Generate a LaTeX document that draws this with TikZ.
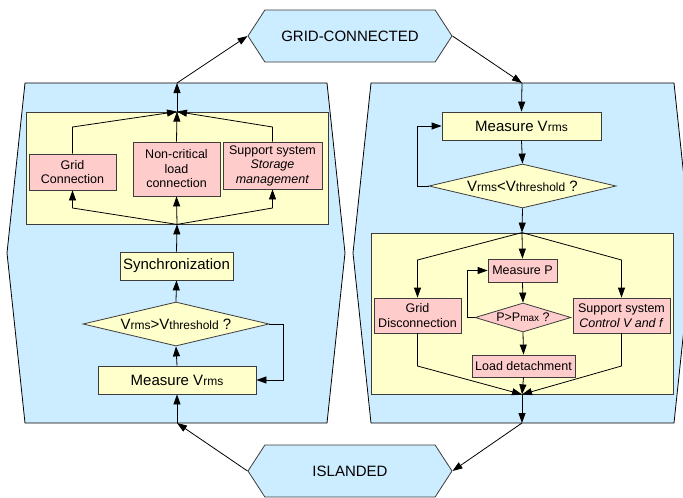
\documentclass[tikz,border=0pt]{standalone}
\usepackage{fontspec}
\setmainfont{Liberation Sans}
\usetikzlibrary{shapes.geometric, shapes.symbols, arrows.meta}
\definecolor{panelblue}{RGB}{204,236,255}
\definecolor{boxyellow}{RGB}{255,255,204}
\definecolor{boxpink}{RGB}{255,204,204}
\definecolor{edgegray}{RGB}{60,60,60}
\newcommand{\idx}[3]{%
    % #1: symbol
    % #2: index text
    % #3: index size
    #1{\fontsize{#3}{#3}\selectfont #2}%
}
\newcommand{\panel}[2]{
    % #1: x of left top corner
    % #2: x of right top corner
    \filldraw[fill=panelblue, draw=black, line width=0.8pt] (#1,83) -- (#2,83) -- ({#2+18},253)
        -- (#2,423) -- (#1,423) -- ({#1-18},253) -- cycle;
}

\begin{document}
\begin{tikzpicture}[x=1pt, y=-1pt, line width=0.8pt]
    % flow steps (yellow)
    \tikzstyle{flow}=[draw=edgegray, fill=boxyellow, inner sep=0, font=\fontsize{15}{18}\selectfont]
    % actions (pink)
    \tikzstyle{act}=[draw=edgegray, fill=boxpink, inner sep=0, align=center, font=\fontsize{12.5}{14.5}\selectfont]
    % decisions
    \tikzstyle{test}=[diamond, aspect=4.2, inner sep=0, draw=edgegray, fill=boxyellow, font=\fontsize{15}{18}\selectfont]
    % operating modes
    \tikzstyle{mode}=[signal, signal to=west and east, signal pointer angle=114, draw=edgegray, fill=panelblue, minimum width=204, minimum height=52, inner sep=0, font=\fontsize{15}{18}\selectfont]
    \tikzstyle{link}=[-{Triangle[length=10pt, width=7pt]}]
    \useasboundingbox (0,0) rectangle (683,498);

    % Operating modes
    \node[mode] (gridmode) at (350,36) {GRID-CONNECTED};
    \node[mode] (islmode) at (350,471) {ISLANDED};

    % Panel for the way back to the grid
    \panel{25}{327}
    \coordinate (ltop) at (177,83);
    \coordinate (lbot) at (177,423);
    \coordinate (ljoin) at (0,127);
    \coordinate (lsplit) at (0,208);
    \coordinate (lloop) at (283,0);
    \node[flow, minimum width=302, minimum height=112] (lbox) at (177,168) {};
    \node[act, minimum width=87, minimum height=36] (gridcon) at (72.5,172) {Grid\\Connection};
    \node[act, minimum width=87, minimum height=54] (loadcon) at (176.5,169) {Non-critical\\load\\connection};
    \node[act, minimum width=99, minimum height=47] (storage) at (272.5,165.5) {Support system\\\textit{Storage}\\\textit{management}};
    \node[flow, minimum width=113, minimum height=28] (sync) at (176.5,266) {Synchronization};
    \node[test, minimum width=186, minimum height=44] (ldec) at (176,324) {\idx{V}{rms}{12}>\idx{V}{threshold}{12} ?};
    \node[flow, minimum width=158, minimum height=28] (lmeas) at (177,380) {Measure \idx{V}{rms}{12}};
    \draw[link] (islmode.west) -- (lbot);
    \draw[link] (lbot) -- (lmeas.south);
    \draw[link] (lmeas.north) -- (ldec.south);
    \draw[link] (ldec.east) -- (ldec.east -| lloop) |- (lmeas.east);
    \draw[link] (ldec.north) -- (sync.south);
    \draw[link] (sync.north) -- (lbox.south);
    \draw[link] (lbox.south) -- (gridcon.south |- lsplit) -- (gridcon.south);
    \draw[link] (lbox.south) -- (loadcon.south);
    \draw[link] (lbox.south) -- (storage.south |- lsplit) -- (storage.south);
    \draw[link] (gridcon.north) -- (gridcon.north |- ljoin) -- (lbox.north);
    \draw[link] (loadcon.north) -- (lbox.north);
    \draw[link] (storage.north) -- (storage.north |- ljoin) -- (lbox.north);
    \draw[link] (lbox.north) -- (ltop);
    \draw[link] (ltop) -- (gridmode.west);

    % Panel for the way to islanding
    \panel{371}{674}
    \coordinate (rtop) at (522,83);
    \coordinate (rbot) at (522,423);
    \coordinate (rsplit) at (0,260);
    \coordinate (rjoin) at (0,366);
    \coordinate (rloop) at (417,0);
    \coordinate (ploop) at (467,0);
    \node[flow, minimum width=159, minimum height=28] (rmeas) at (521.5,126) {Measure \idx{V}{rms}{12}};
    \node[test, minimum width=187, minimum height=44] (rdec) at (522.5,186) {\idx{V}{rms}{12}<\idx{V}{threshold}{12} ?};
    \node[flow, minimum width=302, minimum height=161] (rbox) at (522,313.5) {};
    \node[act, minimum width=87, minimum height=35] (griddis) at (417.5,315.5) {Grid\\Disconnection};
    \node[act, minimum width=69, minimum height=23] (measp) at (522.5,270.5) {Measure P};
    \node[test, fill=boxpink, aspect=3.3, minimum width=96, minimum height=29, font=\fontsize{12.5}{14.5}\selectfont] (pdec) at (523,317.5) {P>\idx{P}{max}{10} ?};
    \node[act, minimum width=103, minimum height=22] (loaddet) at (523.5,366) {Load detachment};
    \node[act, minimum width=97, minimum height=35] (ctrlvf) at (621.5,315.5) {Support system\\\textit{Control V and f}};
    \draw[link] (gridmode.east) -- (rtop);
    \draw[link] (rtop) -- (rmeas.north);
    \draw[link] (rmeas.south) -- (rdec.north);
    \draw[link] (rdec.west) -- (rdec.west -| rloop) |- (rmeas.west);
    \draw[link] (rdec.south) -- (rbox.north);
    \draw[link] (rbox.north) -- (griddis.north |- rsplit) -- (griddis.north);
    \draw[link] (rbox.north) -- (measp.north);
    \draw[link] (rbox.north) -- (ctrlvf.north |- rsplit) -- (ctrlvf.north);
    \draw[link] (measp.south) -- (pdec.north);
    \draw[link] (pdec.west) -- (pdec.west -| ploop) |- (measp.west);
    \draw[link] (pdec.south) -- (loaddet.north);
    \draw[link] (griddis.south) -- (griddis.south |- rjoin) -- (rbox.south);
    \draw[link] (loaddet.south) -- (rbox.south);
    \draw[link] (ctrlvf.south) -- (ctrlvf.south |- rjoin) -- (rbox.south);
    \draw[link] (rbox.south) -- (rbot);
    \draw[link] (rbot) -- (islmode.east);
\end{tikzpicture}
\end{document}
